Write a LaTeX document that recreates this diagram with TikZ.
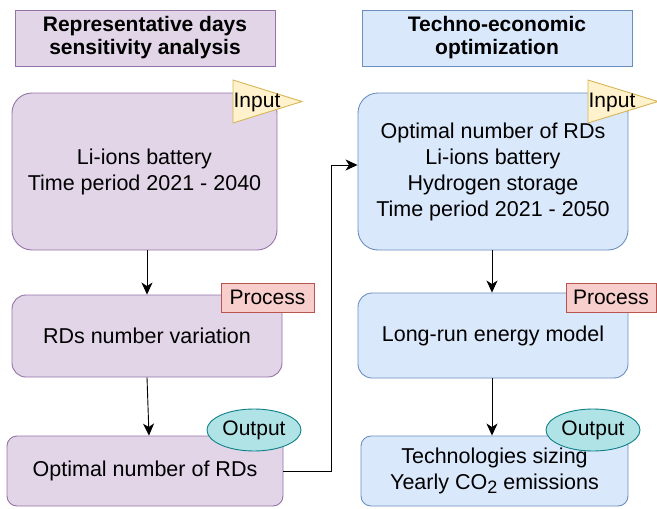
\documentclass[tikz,border=0pt]{standalone}
\usepackage{fontspec}
\setmainfont{Liberation Sans}
\usetikzlibrary{shapes.geometric,arrows.meta}

\definecolor{lilla}{HTML}{E1D5E7}
\definecolor{lillabordo}{HTML}{9673A6}
\definecolor{azzurro}{HTML}{DAE8FC}
\definecolor{azzurrobordo}{HTML}{6C8EBF}
\definecolor{giallo}{HTML}{FFF2CC}
\definecolor{giallobordo}{HTML}{D6B656}
\definecolor{rosa}{HTML}{F8CECC}
\definecolor{rosabordo}{HTML}{B85450}
\definecolor{verde}{HTML}{B0E3E6}
\definecolor{verdebordo}{HTML}{0E8088}

\tikzset{
  titolo/.style={draw,line width=0.9pt,align=center,inner sep=0pt,
    font=\fontsize{21}{23}\selectfont\bfseries},
  blocco/.style={draw,line width=0.9pt,rounded corners=14pt,align=center,inner sep=0pt},
  sx/.style={fill=lilla,draw=lillabordo},
  dx/.style={fill=azzurro,draw=azzurrobordo},
  etichetta/.style={font=\fontsize{21}{22}\selectfont,inner sep=0pt},
  freccia/.style={line width=0.9pt,-{Stealth[length=12pt,width=11pt,inset=3.5pt]}}
}

\begin{document}
\begin{tikzpicture}[x=1pt,y=-1pt,font=\fontsize{21.5}{26}\selectfont]
\useasboundingbox (0,0) rectangle (657,509);

% left column
\node[titolo,sx,minimum width=260pt,minimum height=56pt] (tsx) at (145,38)
  {Representative days\\sensitivity analysis};

\node[blocco,sx,rounded corners=20pt,minimum width=265pt,minimum height=157pt] (sx1) at (144.5,171.5)
  {Li-ions battery\\Time period 2021 - 2040};
\node[blocco,sx,minimum width=270pt,minimum height=82pt] (sx2) at (147,336)
  {RDs number variation};
\node[blocco,sx,rounded corners=10pt,minimum width=276pt,minimum height=70pt] (sx3) at (145,471)
  {Optimal number of RDs};

\draw[fill=giallo,draw=giallobordo,line width=0.9pt] (233,80) -- (302,101.5) -- (233,123) -- cycle;
\node[etichetta] (insx) at (257,102) {Input};
\node[etichetta,draw=rosabordo,fill=rosa,line width=0.9pt,minimum width=93pt,minimum height=29pt] (prsx) at (267.5,297.5) {Process};
\node[etichetta,ellipse,draw=verdebordo,fill=verde,line width=0.9pt,minimum width=94pt,minimum height=42pt] (outsx) at (254,430) {Output};

% right column
\node[titolo,dx,minimum width=270pt,minimum height=56pt] (tdx) at (497,38)
  {Techno-economic\\optimization};

\node[blocco,dx,rounded corners=20pt,minimum width=270pt,minimum height=157pt] (dx1) at (493,171.5)
  {Optimal number of RDs\\Li-ions battery\\Hydrogen storage\\Time period 2021 - 2050};
\node[blocco,dx,minimum width=270pt,minimum height=85pt] (dx2) at (493,335.5)
  {Long-run energy model};
\node[blocco,dx,rounded corners=10pt,minimum width=267pt,minimum height=70pt] (dx3) at (494.5,471)
  {Technologies sizing\\Yearly CO\raisebox{-4pt}{\fontsize{18}{18}\selectfont 2} emissions};

\draw[fill=giallo,draw=giallobordo,line width=0.9pt] (588,80) -- (658,101.5) -- (588,123) -- cycle;
\node[etichetta] (indx) at (612,102) {Input};
\node[etichetta,draw=rosabordo,fill=rosa,line width=0.9pt,minimum width=90pt,minimum height=29pt] (prdx) at (611,297.5) {Process};
\node[etichetta,ellipse,draw=verdebordo,fill=verde,line width=0.9pt,minimum width=94pt,minimum height=42pt] (outdx) at (593,430) {Output};

% arrows
\coordinate (gomito) at (331,471);
\draw[freccia] (sx1.south -| 147,0) -- (sx2.north -| 147,0);
\draw[freccia] (sx2.south -| 147,0) -- (sx3.north -| 149,0);
\draw[freccia] (sx3.east) -- (gomito) |- ([yshift=6.5pt]dx1.west);
\draw[freccia] (dx1.south -| 492,0) -- (dx2.north -| 492,0);
\draw[freccia] (dx2.south -| 492,0) -- (dx3.north -| 492,0);

\end{tikzpicture}
\end{document}
